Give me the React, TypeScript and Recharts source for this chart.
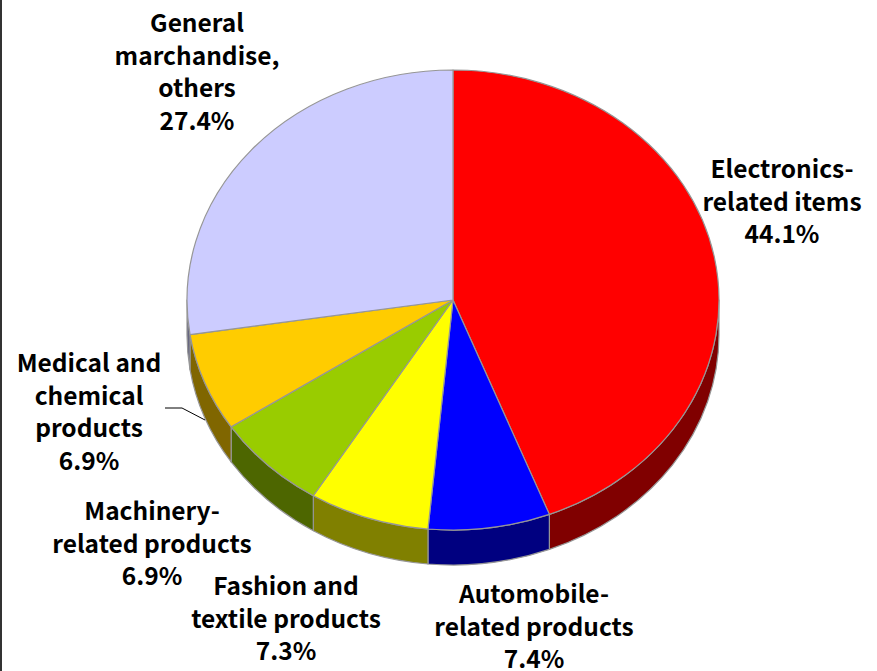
import React from 'react';
import { Cell, Pie, PieChart } from 'recharts';

const categories = [
  'Electronics-related items',
  'Automobile-related products',
  'Fashion and textile products',
  'Machinery-related products',
  'Medical and chemical products',
  'General marchandise, others'
];
const shares = [44.1, 7.4, 7.3, 6.9, 6.9, 27.4];
const labelLines = [
  ['Electronics-', 'related items'],
  ['Automobile-', 'related products'],
  ['Fashion and', 'textile products'],
  ['Machinery-', 'related products'],
  ['Medical and', 'chemical', 'products'],
  ['General', 'marchandise,', 'others']
];
const topColors = ['#FF0000', '#0000FF', '#FFFF00', '#99CC00', '#FFCC00', '#CCCCFF'];
const sideColors = ['#800000', '#000080', '#808000', '#4D6600', '#806600', '#666680'];

const data = categories.map((name, i) => ({ name, value: shares[i] }));

// layout
const W = 877;
const H = 671;
const CX = 453;
const CY = 300;
const RX = 266;
const RY_RATIO = 230 / 266;
const DEPTH = 35;
const FONT = '"Noto Sans CJK JP", "Noto Sans", sans-serif';
const FONT_SIZE = 24.5;
const LINE_H = 32.5;
// text centre x and first baseline y for each label
const labelPos = [
  [782, 178],
  [534, 603],
  [286, 595],
  [152, 520],
  [89, 372],
  [197, 32]
];

const RAD = Math.PI / 180;
const pt = (cx: number, cy: number, rx: number, ry: number, a: number) =>
  [cx + rx * Math.cos(a * RAD), cy - ry * Math.sin(a * RAD)];

function TopShape(props: any) {
  const { cx, cy, outerRadius, startAngle, endAngle, fill } = props;
  const rx = outerRadius;
  const ry = outerRadius * RY_RATIO;
  const [x1, y1] = pt(cx, cy, rx, ry, startAngle);
  const [x2, y2] = pt(cx, cy, rx, ry, endAngle);
  const large = Math.abs(startAngle - endAngle) > 180 ? 1 : 0;
  const d = `M${cx},${cy} L${x1},${y1} A${rx},${ry} 0 ${large} 1 ${x2},${y2} Z`;
  return <path d={d} fill={fill} stroke="#969696" strokeWidth={1.2} strokeLinejoin="round" />;
}

function SideShape(props: any) {
  const { cx, cy, outerRadius, startAngle, endAngle, fill } = props;
  const rx = outerRadius;
  const ry = outerRadius * RY_RATIO;
  // front half of the disc is between -180 and 0 degrees
  const hi = Math.min(Math.max(startAngle, endAngle), 0);
  const lo = Math.max(Math.min(startAngle, endAngle), -180);
  if (hi <= lo) return null;
  const [x1, y1] = pt(cx, cy, rx, ry, hi);
  const [x2, y2] = pt(cx, cy, rx, ry, lo);
  const d =
    `M${x1},${y1} A${rx},${ry} 0 0 1 ${x2},${y2} ` +
    `L${x2},${y2 + DEPTH} A${rx},${ry} 0 0 0 ${x1},${y1 + DEPTH} Z`;
  return <path d={d} fill={fill} stroke="#969696" strokeWidth={1.2} strokeLinejoin="round" />;
}

function renderLabel(props: any) {
  const { index, value } = props;
  const [x, y] = labelPos[index];
  const lines = [...labelLines[index], `${value.toFixed(1)}%`];
  return (
    <g key={`lbl-${index}`}>
      {index === 4 && (
        <polyline points="165,408 182,408 205,420" fill="none" stroke="#000" strokeWidth={1} />
      )}
      <text
        x={x}
        y={y}
        textAnchor="middle"
        fontFamily={FONT}
        fontSize={FONT_SIZE}
        fontWeight="bold"
        fill="#000"
      >
        {lines.map((t, i) => (
          <tspan key={i} x={x} y={y + i * LINE_H}>
            {t}
          </tspan>
        ))}
      </text>
    </g>
  );
}

export default function App() {
  return (
    <div style={{ position: 'absolute', left: 0, top: 0, width: W, height: H, background: '#fff' }}>
      <div style={{ position: 'absolute', left: 0, top: 0, width: 2, height: H, background: '#333' }} />
      <PieChart width={W} height={H} margin={{ top: 0, right: 0, bottom: 0, left: 0 }}>
        <Pie
          data={data}
          dataKey="value"
          cx={CX}
          cy={CY}
          outerRadius={RX}
          startAngle={90}
          endAngle={-270}
          isAnimationActive={false}
          shape={(p: any) => <SideShape {...p} />}
        >
          {data.map((_, i) => (
            <Cell key={`side-${i}`} fill={sideColors[i]} />
          ))}
        </Pie>
        <Pie
          data={data}
          dataKey="value"
          cx={CX}
          cy={CY}
          outerRadius={RX}
          startAngle={90}
          endAngle={-270}
          isAnimationActive={false}
          shape={(p: any) => <TopShape {...p} />}
          label={renderLabel}
          labelLine={false}
        >
          {data.map((_, i) => (
            <Cell key={`top-${i}`} fill={topColors[i]} />
          ))}
        </Pie>
      </PieChart>
    </div>
  );
}
